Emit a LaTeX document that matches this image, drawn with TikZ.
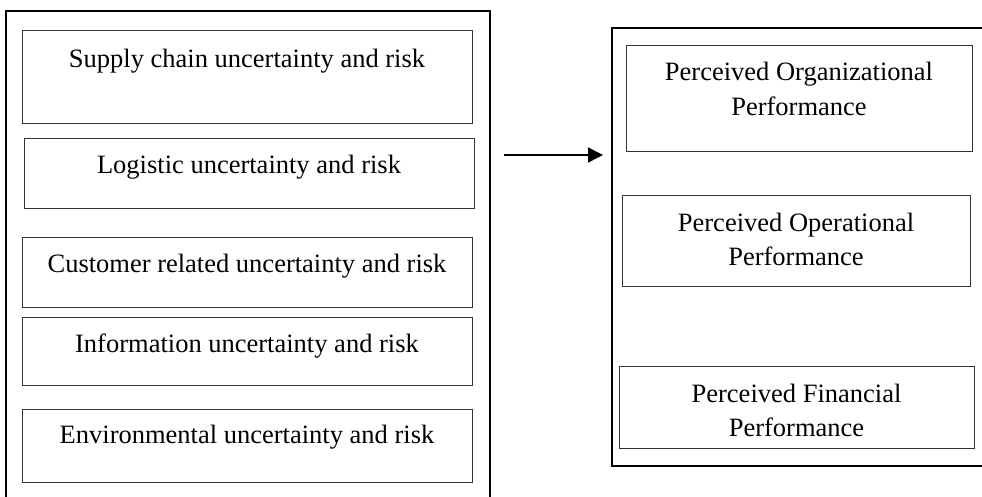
\documentclass[tikz,border=0pt]{standalone}
\usepackage{fontspec}
\setmainfont{Liberation Serif}
\usetikzlibrary{arrows.meta}
\begin{document}
\begin{tikzpicture}[x=1pt,y=-1pt,
  outer/.style={draw=black,line width=1.5pt},
  inbox/.style={draw=black!80,line width=1pt,inner sep=0pt},
  txt/.style={font=\fontsize{26.5}{34.5}\selectfont,inner sep=0pt,anchor=base,align=center},
  conn/.style={line width=1.5pt,-{Triangle[length=15pt,width=15pt]}}]
\useasboundingbox (0,0) rectangle (982,497);
% left container
\draw[outer] (6,500) -- (6,11) -- (490,11) -- (490,500);
% right container
\draw[outer] (990,28) -- (612,28) -- (612,466) -- (990,466);
% left boxes
\node[inbox,minimum width=450pt,minimum height=93pt] (l1) at (247,77.5) {};
\node[inbox,minimum width=450pt,minimum height=70pt] (l2) at (249,174) {};
\node[inbox,minimum width=450pt,minimum height=70pt] (l3) at (247,272) {};
\node[inbox,minimum width=450pt,minimum height=68pt] (l4) at (247,351) {};
\node[inbox,minimum width=450pt,minimum height=73pt] (l5) at (247,445.5) {};
\node[txt] (t1) at (247,68) {Supply chain uncertainty and risk};
\node[txt] (t2) at (249,173.5) {Logistic uncertainty and risk};
\node[txt] (t3) at (247,272.5) {Customer related uncertainty and risk};
\node[txt] (t4) at (247,352.5) {Information uncertainty and risk};
\node[txt] (t5) at (247,443.5) {Environmental uncertainty and risk};
% right boxes
\node[inbox,minimum width=346pt,minimum height=106pt] (r1) at (799,99) {};
\node[inbox,minimum width=348pt,minimum height=90pt] (r2) at (796,241) {};
\node[inbox,minimum width=355pt,minimum height=82pt] (r3) at (796.5,407) {};
\node[txt] (u1) at (799,115.5) {Perceived Organizational\\Performance};
\node[txt] (u2) at (796,265.5) {Perceived Operational\\Performance};
\node[txt] (u3) at (796.5,436.5) {Perceived Financial\\Performance};
% arrow
\coordinate (as) at (504,155);
\coordinate (ae) at (603,155);
\draw[conn] (as) -- (ae);
\end{tikzpicture}
\end{document}
